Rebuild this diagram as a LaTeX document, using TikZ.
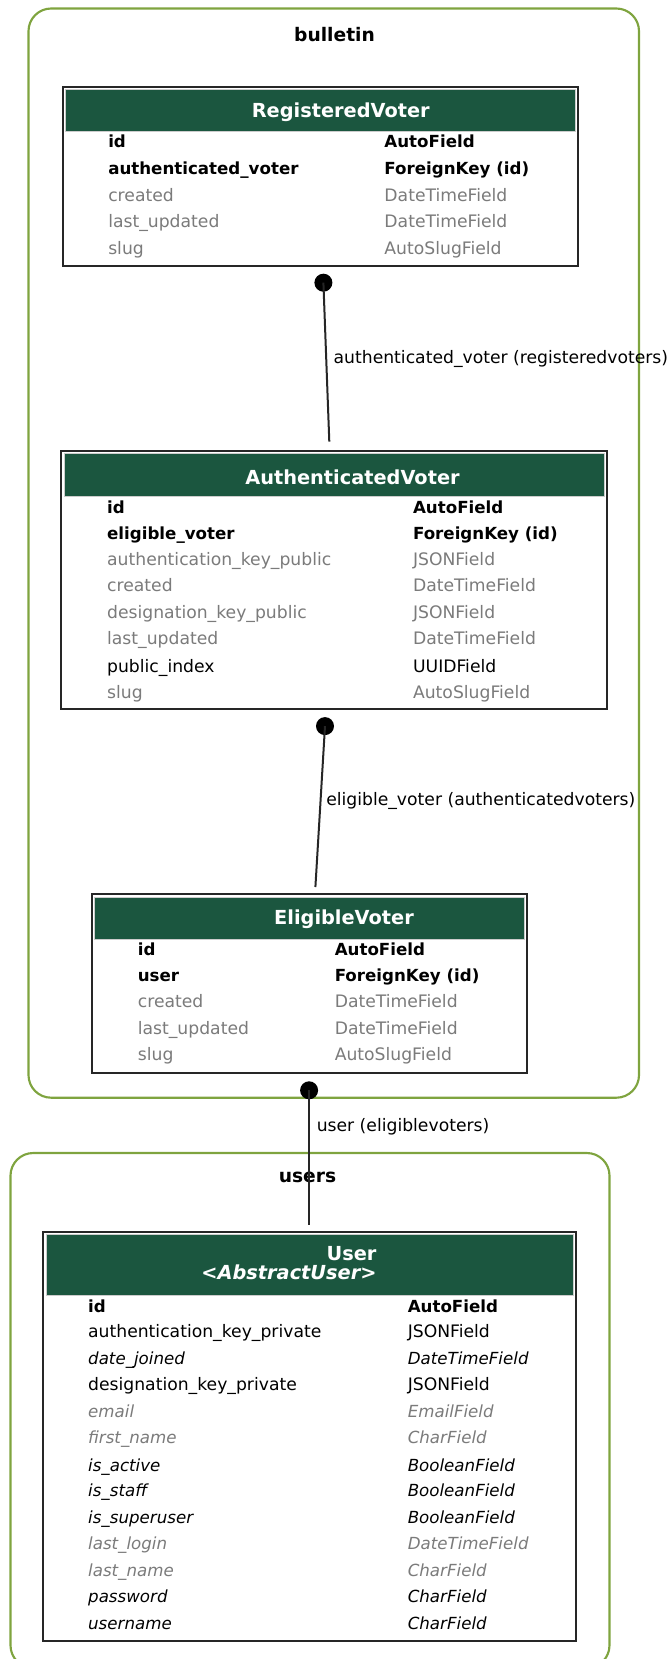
\documentclass[tikz,border=0pt]{standalone}
\usepackage{fontspec}
\setmainfont{DejaVu Sans}
\usetikzlibrary{fit}
\definecolor{hdrgreen}{HTML}{1B563F}
\definecolor{clustergreen}{HTML}{7FA43F}
\definecolor{fieldgray}{HTML}{7B7B7B}
\tikzset{
  cluster/.style={draw=clustergreen, line width=1.6pt, rounded corners=17pt},
  clusterlabel/.style={font=\fontsize{14}{16}\selectfont\bfseries, inner sep=0, yshift=-0.6pt},
  tablebox/.style={draw=black!85, line width=1.5pt, fill=white, inner sep=0},
  header/.style={fill=hdrgreen, draw=black!20, line width=0.6pt, inner sep=0},
  title/.style={text=white, font=\fontsize{14.5}{17}\selectfont\bfseries, inner sep=0, yshift=-2pt},
  fld/.style={anchor=mid west, inner sep=0, font=\fontsize{12.9}{15}\selectfont, yshift=-2pt},
  key/.style={fld, font=\fontsize{12.5}{15}\selectfont\bfseries},
  blank/.style={fld, text=fieldgray},
  inh/.style={fld, font=\fontsize{12.5}{15}\selectfont\itshape},
  blankinh/.style={inh, text=fieldgray},
  conn/.style={draw=black!85, line width=1.5pt},
  dotend/.style={circle, fill=black, inner sep=0, minimum size=13.5pt},
  edgelabel/.style={anchor=mid west, inner sep=0, font=\fontsize{12.9}{15}\selectfont, yshift=-1.6pt}
}
\begin{document}
\begin{tikzpicture}[x=0.75pt, y=-0.75pt]
\useasboundingbox (0,0) rectangle (669,1659);
\clip (0,0) rectangle (669,1659);

% ---------- app clusters ----------
\draw[cluster] (28.5,8.5) rectangle (639,1097.7);
\node[clusterlabel] (lblbulletin) at (334.5,33.5) {bulletin};
\draw[cluster] (10.5,1153) rectangle (609.5,1668);
\node[clusterlabel] (lblusers) at (307.5,1177) {users};

% ---------- RegisteredVoter ----------
\node[tablebox, fit={(62.5,86.8) (578,265.7)}] (rv) {};
\node[header, fit={(65,89.3) (575.5,131.3)}] (rvh) {};
\node[title] (rvt) at (340.8,110) {RegisteredVoter};
\node[key]   (rv1l) at (108,140.8) {id};
\node[key]   (rv1r) at (384.2,140.8) {AutoField};
\node[key]   (rv2l) at (108,168.3) {authenticated\_voter};
\node[key]   (rv2r) at (384.2,168.3) {ForeignKey (id)};
\node[blank] (rv3l) at (108,194.8) {created};
\node[blank] (rv3r) at (384.2,194.8) {DateTimeField};
\node[blank] (rv4l) at (108,221.2) {last\_updated};
\node[blank] (rv4r) at (384.2,221.2) {DateTimeField};
\node[blank] (rv5l) at (108,247.7) {slug};
\node[blank] (rv5r) at (384.2,247.7) {AutoSlugField};

% ---------- AuthenticatedVoter ----------
\node[tablebox, fit={(61.4,451.2) (606.5,709.2)}] (av) {};
\node[header, fit={(63.9,453.7) (604,496.4)}] (avh) {};
\node[title] (avt) at (352.5,474.5) {AuthenticatedVoter};
\node[key]   (av1l) at (106.9,507) {id};
\node[key]   (av1r) at (412.8,507) {AutoField};
\node[key]   (av2l) at (106.9,533.5) {eligible\_voter};
\node[key]   (av2r) at (412.8,533.5) {ForeignKey (id)};
\node[blank] (av3l) at (106.9,558.9) {authentication\_key\_public};
\node[blank] (av3r) at (412.8,558.9) {JSONField};
\node[blank] (av4l) at (106.9,585.4) {created};
\node[blank] (av4r) at (412.8,585.4) {DateTimeField};
\node[blank] (av5l) at (106.9,611.8) {designation\_key\_public};
\node[blank] (av5r) at (412.8,611.8) {JSONField};
\node[blank] (av6l) at (106.9,638.3) {last\_updated};
\node[blank] (av6r) at (412.8,638.3) {DateTimeField};
\node[fld]   (av7l) at (106.9,665.8) {public\_index};
\node[fld]   (av7r) at (412.8,665.8) {UUIDField};
\node[blank] (av8l) at (106.9,692.3) {slug};
\node[blank] (av8r) at (412.8,692.3) {AutoSlugField};

% ---------- EligibleVoter ----------
\node[tablebox, fit={(92.1,894.4) (527.1,1073.3)}] (ev) {};
\node[header, fit={(94.6,896.9) (524.6,938.9)}] (evh) {};
\node[title] (evt) at (344,917) {EligibleVoter};
\node[key]   (ev1l) at (137.6,949.5) {id};
\node[key]   (ev1r) at (334.5,949.5) {AutoField};
\node[key]   (ev2l) at (137.6,974.9) {user};
\node[key]   (ev2r) at (334.5,974.9) {ForeignKey (id)};
\node[blank] (ev3l) at (137.6,1001.3) {created};
\node[blank] (ev3r) at (334.5,1001.3) {DateTimeField};
\node[blank] (ev4l) at (137.6,1027.8) {last\_updated};
\node[blank] (ev4r) at (334.5,1027.8) {DateTimeField};
\node[blank] (ev5l) at (137.6,1054.3) {slug};
\node[blank] (ev5r) at (334.5,1054.3) {AutoSlugField};

% ---------- User ----------
\node[tablebox, fit={(43.4,1232) (575.8,1640.7)}] (us) {};
\node[header, fit={(45.9,1234.5) (573.3,1295.6)}] (ush) {};
\node[title, anchor=mid east] (ust1) at (376.8,1254.3) {User};
\node[title, anchor=mid east, font=\fontsize{14.5}{17}\selectfont\bfseries\itshape] (ust2) at (376.8,1273.4) {<AbstractUser>};
\node[key]      (us1l)  at (87.9,1306.2) {id};
\node[key]      (us1r)  at (407.5,1306.2) {AutoField};
\node[fld]      (us2l)  at (87.9,1331.6) {authentication\_key\_private};
\node[fld]      (us2r)  at (407.5,1331.6) {JSONField};
\node[inh]      (us3l)  at (87.9,1358) {date\_joined};
\node[inh]      (us3r)  at (407.5,1358) {DateTimeField};
\node[fld]      (us4l)  at (87.9,1384.5) {designation\_key\_private};
\node[fld]      (us4r)  at (407.5,1384.5) {JSONField};
\node[blankinh] (us5l)  at (87.9,1411) {email};
\node[blankinh] (us5r)  at (407.5,1411) {EmailField};
\node[blankinh] (us6l)  at (87.9,1437.4) {first\_name};
\node[blankinh] (us6r)  at (407.5,1437.4) {CharField};
\node[inh]      (us7l)  at (87.9,1465) {is\_active};
\node[inh]      (us7r)  at (407.5,1465) {BooleanField};
\node[inh]      (us8l)  at (87.9,1490.4) {is\_staff};
\node[inh]      (us8r)  at (407.5,1490.4) {BooleanField};
\node[inh]      (us9l)  at (87.9,1516.8) {is\_superuser};
\node[inh]      (us9r)  at (407.5,1516.8) {BooleanField};
\node[blankinh] (us10l) at (87.9,1543.3) {last\_login};
\node[blankinh] (us10r) at (407.5,1543.3) {DateTimeField};
\node[blankinh] (us11l) at (87.9,1569.8) {last\_name};
\node[blankinh] (us11r) at (407.5,1569.8) {CharField};
\node[inh]      (us12l) at (87.9,1596.2) {password};
\node[inh]      (us12r) at (407.5,1596.2) {CharField};
\node[inh]      (us13l) at (87.9,1622.7) {username};
\node[inh]      (us13r) at (407.5,1622.7) {CharField};

% ---------- relations (foreign keys) ----------
\node[dotend] (d1) at (323.4,282.7) {};
\coordinate (e1) at (329.3,441.7);
\draw[conn] (d1.center) -- (e1);
\node[edgelabel] (l1) at (333.4,357.8) {authenticated\_voter (registeredvoters)};

\node[dotend] (d2) at (325,726.1) {};
\coordinate (e2) at (315.4,887);
\draw[conn] (d2.center) -- (e2);
\node[edgelabel] (l2) at (326,800.2) {eligible\_voter (authenticatedvoters)};

\node[dotend] (d3) at (309.1,1090.3) {};
\coordinate (e3) at (309.1,1224.7);
\draw[conn] (d3.center) -- (e3);
\node[edgelabel] (l3) at (316.5,1126.2) {user (eligiblevoters)};
\end{tikzpicture}
\end{document}
